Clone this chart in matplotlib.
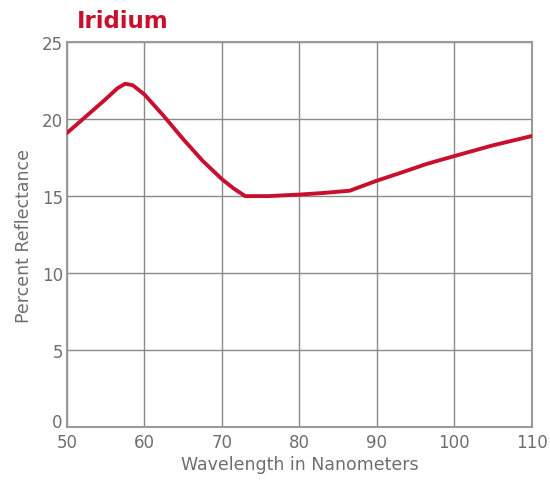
import numpy as np
import matplotlib
matplotlib.use("Agg")
import matplotlib.pyplot as plt
import matplotlib.transforms as mtransforms

wavelength = [50, 52.5, 55, 56.5, 57.5, 58.5, 60, 62.5, 65, 67.5, 70, 71.5, 73, 76, 80, 83, 86.5, 90, 93, 96.5, 100, 105, 110]
reflectance = [19.1, 20.2, 21.3, 22.0, 22.3, 22.2, 21.6, 20.2, 18.7, 17.3, 16.1, 15.5, 15.0, 15.0, 15.1, 15.2, 15.35, 16.0, 16.5, 17.1, 17.6, 18.3, 18.9]

red = "#c8102e"
txt = "#6e6e6e"

fig = plt.figure(figsize=(5.5, 4.85), dpi=100)
ax = fig.add_axes([0.1218, 0.1175, 0.845, 0.7935])

ax.plot(wavelength, reflectance, color=red, lw=2.8, solid_capstyle="round", zorder=3)

ax.set_xlim(50, 110)
ax.set_ylim(0, 25)
ax.set_xticks(np.arange(50, 111, 10))
ax.set_yticks(np.arange(0, 26, 5))
ax.grid(True, color="#8a8a8a", lw=1)
ax.tick_params(length=0, labelsize=12, labelcolor=txt, pad=3)
ax.tick_params(axis="x", pad=4)
for s in ax.spines.values():
    s.set_color("#9a9a9a")
    s.set_linewidth(1.5)

# lift the "0" so it clears the "50"
fig.canvas.draw()
ylabs = ax.get_yticklabels()
ylabs[0].set_transform(ylabs[0].get_transform() + mtransforms.ScaledTranslation(0, 7 / 100, fig.dpi_scale_trans))

ax.set_xlabel("Wavelength in Nanometers", fontsize=12.5, color=txt, labelpad=3)
ax.set_ylabel("Percent Reflectance", fontsize=12.5, color=txt, labelpad=6)

fig.text(77 / 550, 1 - 21 / 485, "Iridium", color=red, fontsize=16.5, fontweight="bold", va="center", ha="left")

fig.savefig("out.png", dpi=100)
